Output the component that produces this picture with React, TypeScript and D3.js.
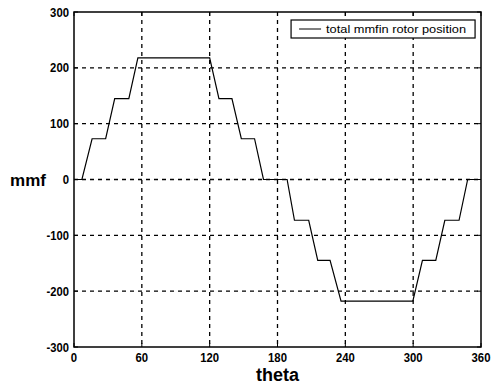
import React from "react";
import * as d3 from "d3";

// breakpoints of the step waveform (theta in degrees, mmf)
const theta = [0, 7, 16, 28, 36, 48.5, 56.5, 120, 128.2, 139.7, 148, 159.7, 167.6, 188.5, 195, 207.6, 215.6, 226.5, 236.2, 299.7, 308.2, 320, 328, 340.6, 348.2, 360];
const mmf = [0, 0, 73, 73, 145, 145, 218, 218, 145, 145, 73, 73, 0, 0, -73, -73, -145, -145, -218, -218, -145, -145, -73, -73, 0, 0];
const xTicks = [0, 60, 120, 180, 240, 300, 360];
const yTicks = [-300, -200, -100, 0, 100, 200, 300];
const legendLabel = "total mmfin rotor position";

const App = () => {
  const width = 492;
  const height = 385;
  const margin = { top: 12, right: 11, bottom: 38, left: 74 };
  const plotW = width - margin.left - margin.right;
  const plotH = height - margin.top - margin.bottom;

  const x = d3.scaleLinear().domain([0, 360]).range([0, plotW]);
  const y = d3.scaleLinear().domain([-300, 300]).range([plotH, 0]);

  const points: [number, number][] = theta.map((t, i) => [t, mmf[i]]);
  const line = d3
    .line<[number, number]>()
    .x((d) => x(d[0]))
    .y((d) => y(d[1]));

  const font = "'Liberation Sans', Arial, sans-serif";
  // condensed look of the tick numbers
  const labelWidth = (t: number) => {
    const s = String(t);
    return s.replace("-", "").length * 6.3 + (t < 0 ? 3.5 : 0);
  };

  return (
    <svg
      width={width}
      height={height}
      style={{ position: "absolute", left: 0, top: 0, background: "#fff" }}
    >
      <g transform={`translate(${margin.left}, ${margin.top})`}>
        {/* grid */}
        {xTicks.slice(1, -1).map((t) => (
          <line key={"gx" + t} x1={x(t)} x2={x(t)} y1={0} y2={plotH} stroke="#000" strokeWidth={1.3} strokeDasharray="4,4" />
        ))}
        {yTicks.slice(1, -1).map((t) => (
          <line key={"gy" + t} x1={0} x2={plotW} y1={y(t)} y2={y(t)} stroke="#000" strokeWidth={1.3} strokeDasharray="4,4" />
        ))}
        {/* ticks inside */}
        {xTicks.map((t) => (
          <g key={"tx" + t}>
            <line x1={x(t)} x2={x(t)} y1={plotH} y2={plotH - 4} stroke="#000" />
            <line x1={x(t)} x2={x(t)} y1={0} y2={4} stroke="#000" />
          </g>
        ))}
        {yTicks.map((t) => (
          <g key={"ty" + t}>
            <line x1={0} x2={4} y1={y(t)} y2={y(t)} stroke="#000" />
            <line x1={plotW} x2={plotW - 4} y1={y(t)} y2={y(t)} stroke="#000" />
          </g>
        ))}
        {/* data */}
        <path d={line(points) || ""} fill="none" stroke="#000" strokeWidth={1.2} />
        {/* frame */}
        <rect x={0} y={0} width={plotW} height={plotH} fill="none" stroke="#000" strokeWidth={1.5} />
        {/* tick labels */}
        {xTicks.map((t) => (
          <text key={"lx" + t} x={x(t)} y={plotH + 15} textAnchor="middle" fontFamily={font} fontSize={13} fontWeight="bold" textLength={labelWidth(t)} lengthAdjust="spacingAndGlyphs">
            {t}
          </text>
        ))}
        {yTicks.map((t) => (
          <text key={"ly" + t} x={-5} y={y(t)} dy="0.35em" textAnchor="end" fontFamily={font} fontSize={13} fontWeight="bold" textLength={labelWidth(t)} lengthAdjust="spacingAndGlyphs">
            {t}
          </text>
        ))}
        {/* legend */}
        <g transform={`translate(${x(192)}, 8)`}>
          <rect x={0} y={0} width={184} height={18} fill="#fff" stroke="#000" strokeWidth={1.2} />
          <line x1={8} x2={30} y1={9} y2={9} stroke="#000" />
          <text x={35} y={13} fontFamily={font} fontSize={11} textLength={140} lengthAdjust="spacingAndGlyphs">
            {legendLabel}
          </text>
        </g>
      </g>
      {/* axis titles */}
      <text x={28} y={margin.top + y(0) + 6} textAnchor="middle" fontFamily={font} fontSize={17} fontWeight="bold">
        mmf
      </text>
      <text x={margin.left + x(180)} y={381} textAnchor="middle" fontFamily={font} fontSize={18} fontWeight="bold">
        theta
      </text>
    </svg>
  );
};

export default App;
